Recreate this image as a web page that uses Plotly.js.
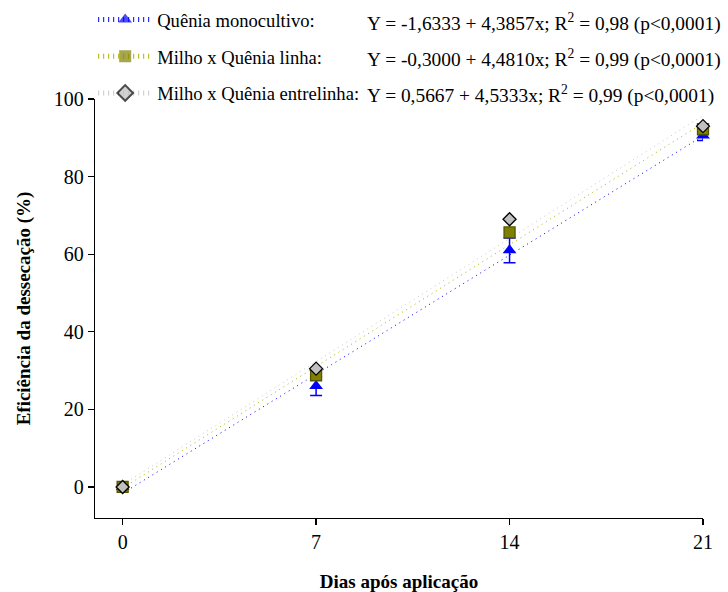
<!DOCTYPE html>
<html>
<head>
<meta charset="utf-8">
<script src="https://cdn.plot.ly/plotly-3.0.1.min.js"></script>
<style>html,body{margin:0;padding:0;background:#fff;}#chart{width:728px;height:592px;}</style>
</head>
<body>
<div id="chart"></div>
<script>
// ---- data ----
const days = [0, 7, 14, 21];
const dayLabels = ['0', '7', '14', '21'];
const seriesNames = ['Quênia monocultivo:', 'Milho x Quênia linha:', 'Milho x Quênia entrelinha:'];
const monocultivo = [0, 26.0, 61.0, 90.6];
const monocultivoErr = [0, 2.4, 3.2, 1.3];
const linha = [0, 28.8, 65.6, 92.2];
const entrelinha = [0, 30.5, 69.0, 93.0];
const intercepts = [-1.6333, -0.3000, 0.5667];
const slopes = [4.3857, 4.4810, 4.5333];
const equations = [
  'Y = -1,6333 + 4,3857x; R<sup>2</sup> = 0,98 (p&lt;0,0001)',
  'Y = -0,3000 + 4,4810x; R<sup>2</sup> = 0,99 (p&lt;0,0001)',
  'Y = 0,5667 + 4,5333x; R<sup>2</sup> = 0,99 (p&lt;0,0001)'
];
const fitRange = [0, 21];
const yTicks = [0, 20, 40, 60, 80, 100];

// ---- styles ----
const FONT = 'Liberation Serif';
const markerColors = ['#0000ff', '#808000', '#c0c0c0'];
const markerLineColors = ['#0000ff', '#555500', '#000000'];
const lineColors = ['#0000ff', '#b0b000', '#c8c8c8'];
const symbols = ['triangle-up', 'square', 'diamond'];
const sizes = [12, 11, 10];
const legendLineW = [[0, 0], [0, 0], [0.01, 0.01]];
const seriesValues = [monocultivo, linha, entrelinha];

const traces = [];
for (let i = 0; i < 3; i++) {
  traces.push({
    type: 'scatter', mode: 'lines+markers',
    x: fitRange,
    y: fitRange.map(d => intercepts[i] + slopes[i] * d),
    name: seriesNames[i], legendgroup: 'g' + i, showlegend: true,
    line: {color: lineColors[i], width: 1, dash: '1px,4px'},
    marker: {symbol: symbols[i], color: markerColors[i], size: [0.01, 0.01],
             line: {color: markerLineColors[i], width: legendLineW[i]}},
    hoverinfo: 'skip', cliponaxis: false
  });
}
for (let i = 0; i < 3; i++) {
  const t = {
    type: 'scatter', mode: 'markers',
    x: days, y: seriesValues[i],
    legendgroup: 'g' + i, showlegend: false,
    marker: {symbol: symbols[i], color: markerColors[i], size: sizes[i],
             line: {color: markerLineColors[i], width: i === 0 ? 0 : 1.3}},
    cliponaxis: false
  };
  if (i === 0) {
    t.error_y = {type: 'data', array: monocultivoErr, visible: true,
                 color: '#0000ff', thickness: 1.5, width: 6};
  }
  traces.push(t);
}

const plotTop = 99, plotBottom = 518;
const rowY = [22, 58, 94.5];
const annotations = equations.map((txt, i) => ({
  xref: 'paper', yref: 'paper', x: (365 - 95) / 608, y: (plotBottom - rowY[i]) / (plotBottom - plotTop),
  xanchor: 'left', yanchor: 'middle', showarrow: false, text: txt,
  font: {family: FONT, size: 19.4, color: '#000'}
}));

const layout = {
  width: 728, height: 592,
  margin: {l: 95, r: 25, t: 99, b: 74, autoexpand: false},
  paper_bgcolor: '#fff', plot_bgcolor: '#fff',
  font: {family: FONT, color: '#000'},
  showlegend: true,
  legend: {
    x: -0.003, xanchor: 'left', y: (plotBottom - 1) / (plotBottom - plotTop), yanchor: 'top',
    font: {family: FONT, size: 18.6, color: '#000'},
    bgcolor: 'rgba(0,0,0,0)', borderwidth: 0,
    itemwidth: 54, itemsizing: 'constant', traceorder: 'grouped', tracegroupgap: 9.5
  },
  annotations: annotations,
  xaxis: {
    range: [-1, 21], tickvals: days, ticktext: dayLabels,
    showline: true, linecolor: '#000', linewidth: 1.3,
    ticks: 'outside', ticklen: 6, tickcolor: '#000', tickwidth: 1.3,
    showgrid: false, zeroline: false,
    tickfont: {family: FONT, size: 20, color: '#000'},
    title: {text: '<b>Dias após aplicação</b>', font: {family: FONT, size: 19, color: '#000'}, standoff: 22}
  },
  yaxis: {
    range: [-8, 100], tickvals: yTicks, ticktext: yTicks.map(String),
    showline: true, linecolor: '#000', linewidth: 1.3,
    ticks: 'outside', ticklen: 6, tickcolor: '#000', tickwidth: 1.3,
    showgrid: false, zeroline: false,
    tickfont: {family: FONT, size: 20, color: '#000'},
    title: {text: '<b>Eficiência da dessecação (%)</b>', font: {family: FONT, size: 19, color: '#000'}, standoff: 18}
  }
};

Plotly.newPlot('chart', traces, layout, {displayModeBar: false, staticPlot: true});
</script>
</body>
</html>
